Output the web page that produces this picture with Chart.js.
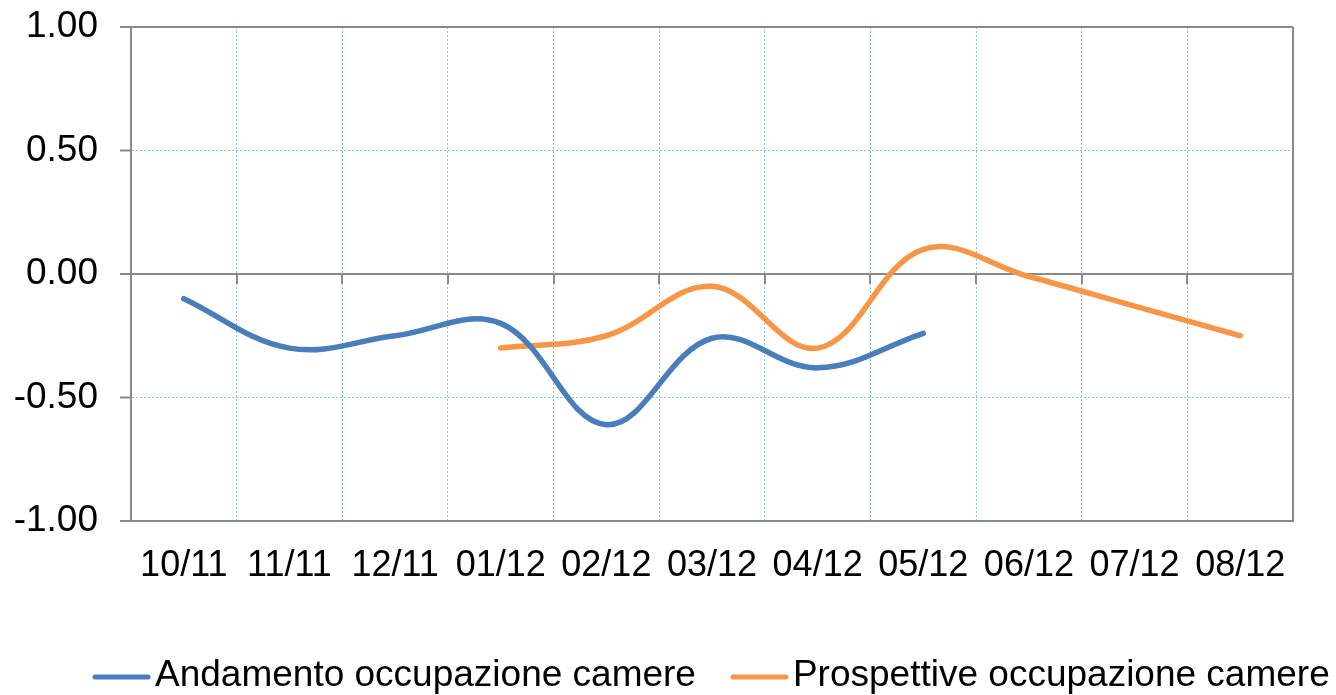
<!DOCTYPE html>
<html>
<head>
<meta charset="utf-8">
<script src="https://cdn.jsdelivr.net/npm/chart.js@4.4.0/dist/chart.umd.min.js"></script>
<style>
  html, body { margin: 0; padding: 0; background: #ffffff; }
  canvas { display: block; }
</style>
</head>
<body>
<canvas id="chart" width="1336" height="695"></canvas>
<script>
// Months on the category axis
const months = ['10/11', '11/11', '12/11', '01/12', '02/12', '03/12', '04/12', '05/12', '06/12', '07/12', '08/12'];

// Room occupancy trend (actual) and outlook (forecast)
const andamento = [-0.10, -0.30, -0.25, -0.20, -0.61, -0.26, -0.38, -0.24, null, null, null];
const prospettive = [null, null, null, -0.30, -0.25, -0.05, -0.30, 0.10, -0.01, -0.13, -0.25];

// Value axis ticks
const yTicks = [-1.0, -0.5, 0.0, 0.5, 1.0];

const seriesNames = ['Andamento occupazione camere', 'Prospettive occupazione camere'];
const seriesColors = ['#4a7ebb', '#f79646'];

const FONT = '"Liberation Sans", Arial, Helvetica, sans-serif';
const AXIS_GRAY = '#8a8a8a';
const GRID_CYAN = '#7fc9cf';

// Short tick marks hanging from the zero line between months, plus the right frame edge
const zeroLineTicks = {
  id: 'zeroLineTicks',
  beforeDatasetsDraw(chart) {
    const { ctx, chartArea, scales: { x, y } } = chart;
    const y0 = y.getPixelForValue(0);
    ctx.save();
    ctx.strokeStyle = AXIS_GRAY;
    ctx.lineWidth = 2;
    ctx.beginPath();
    for (let i = 1; i < months.length; i++) {
      const px = Math.round((x.getPixelForTick(i - 1) + x.getPixelForTick(i)) / 2);
      ctx.moveTo(px, y0);
      ctx.lineTo(px, y0 + 10);
    }
    ctx.moveTo(chartArea.right, chartArea.top);
    ctx.lineTo(chartArea.right, chartArea.bottom);
    ctx.stroke();
    ctx.restore();
  }
};

// Legend row under the axis labels
const bottomLegend = {
  id: 'bottomLegend',
  afterDraw(chart) {
    const ctx = chart.ctx;
    const yText = 676;
    const yLine = 677;
    let x = 93;
    ctx.save();
    ctx.font = '37px ' + FONT;
    ctx.textBaseline = 'middle';
    ctx.textAlign = 'left';
    chart.data.datasets.forEach(ds => {
      ctx.strokeStyle = ds.borderColor;
      ctx.lineWidth = 5;
      ctx.lineCap = 'round';
      ctx.beginPath();
      ctx.moveTo(x + 2, yLine);
      ctx.lineTo(x + 55, yLine);
      ctx.stroke();
      x += 62;
      ctx.fillStyle = '#000000';
      ctx.fillText(ds.label, x, yText);
      x += ctx.measureText(ds.label).width + 35;
    });
    ctx.restore();
  }
};

const isFrameValue = v => Math.abs(v) < 1e-9 || Math.abs(Math.abs(v) - 1) < 1e-9;

new Chart(document.getElementById('chart'), {
  type: 'line',
  data: {
    labels: months,
    datasets: [
      {
        label: seriesNames[0],
        data: andamento,
        borderColor: seriesColors[0],
        backgroundColor: seriesColors[0],
        borderWidth: 5.5,
        borderCapStyle: 'round',
        borderJoinStyle: 'round',
        tension: 0.38,
        pointRadius: 0,
        fill: false
      },
      {
        label: seriesNames[1],
        data: prospettive,
        borderColor: seriesColors[1],
        backgroundColor: seriesColors[1],
        borderWidth: 5.5,
        borderCapStyle: 'round',
        borderJoinStyle: 'round',
        tension: 0.38,
        pointRadius: 0,
        fill: false
      }
    ]
  },
  options: {
    responsive: false,
    animation: false,
    devicePixelRatio: 1,
    layout: { padding: { left: 0, top: 27, right: 43, bottom: 0 } },
    plugins: {
      legend: { display: false },
      tooltip: { enabled: false }
    },
    scales: {
      x: {
        type: 'category',
        offset: true,
        grid: {
          offset: true,
          drawTicks: false,
          color: c => (c.type !== 'tick' || c.index === 0) ? AXIS_GRAY : GRID_CYAN,
          lineWidth: c => (c.type !== 'tick' || c.index === 0) ? 2 : 1
        },
        border: {
          display: true,
          color: AXIS_GRAY,
          width: 2,
          dash: c => (c.type !== 'tick' || c.index === 0) ? [] : [2, 2]
        },
        ticks: {
          color: '#000000',
          font: { family: FONT, size: 36 },
          padding: 23,
          maxRotation: 0,
          autoSkip: false
        },
        afterFit: s => { s.height = 174; s.paddingLeft = 0; s.paddingRight = 0; }
      },
      y: {
        min: -1,
        max: 1,
        afterBuildTicks: s => { s.ticks = yTicks.map(v => ({ value: v })); },
        grid: {
          drawTicks: true,
          tickLength: 11,
          tickWidth: 2,
          tickColor: AXIS_GRAY,
          color: c => (c.type === 'tick' && isFrameValue(c.tick.value)) ? AXIS_GRAY : GRID_CYAN,
          lineWidth: c => (c.type === 'tick' && isFrameValue(c.tick.value)) ? 2 : 1
        },
        border: {
          display: true,
          color: AXIS_GRAY,
          width: 2,
          dash: c => (c.type === 'tick' && !isFrameValue(c.tick.value)) ? [2, 2] : []
        },
        ticks: {
          color: '#000000',
          font: { family: FONT, size: 37 },
          padding: 22,
          callback: v => Number(v).toFixed(2)
        },
        afterFit: s => { s.width = 131; s.paddingTop = 0; s.paddingBottom = 0; }
      }
    }
  },
  plugins: [zeroLineTicks, bottomLegend]
});
</script>
</body>
</html>
